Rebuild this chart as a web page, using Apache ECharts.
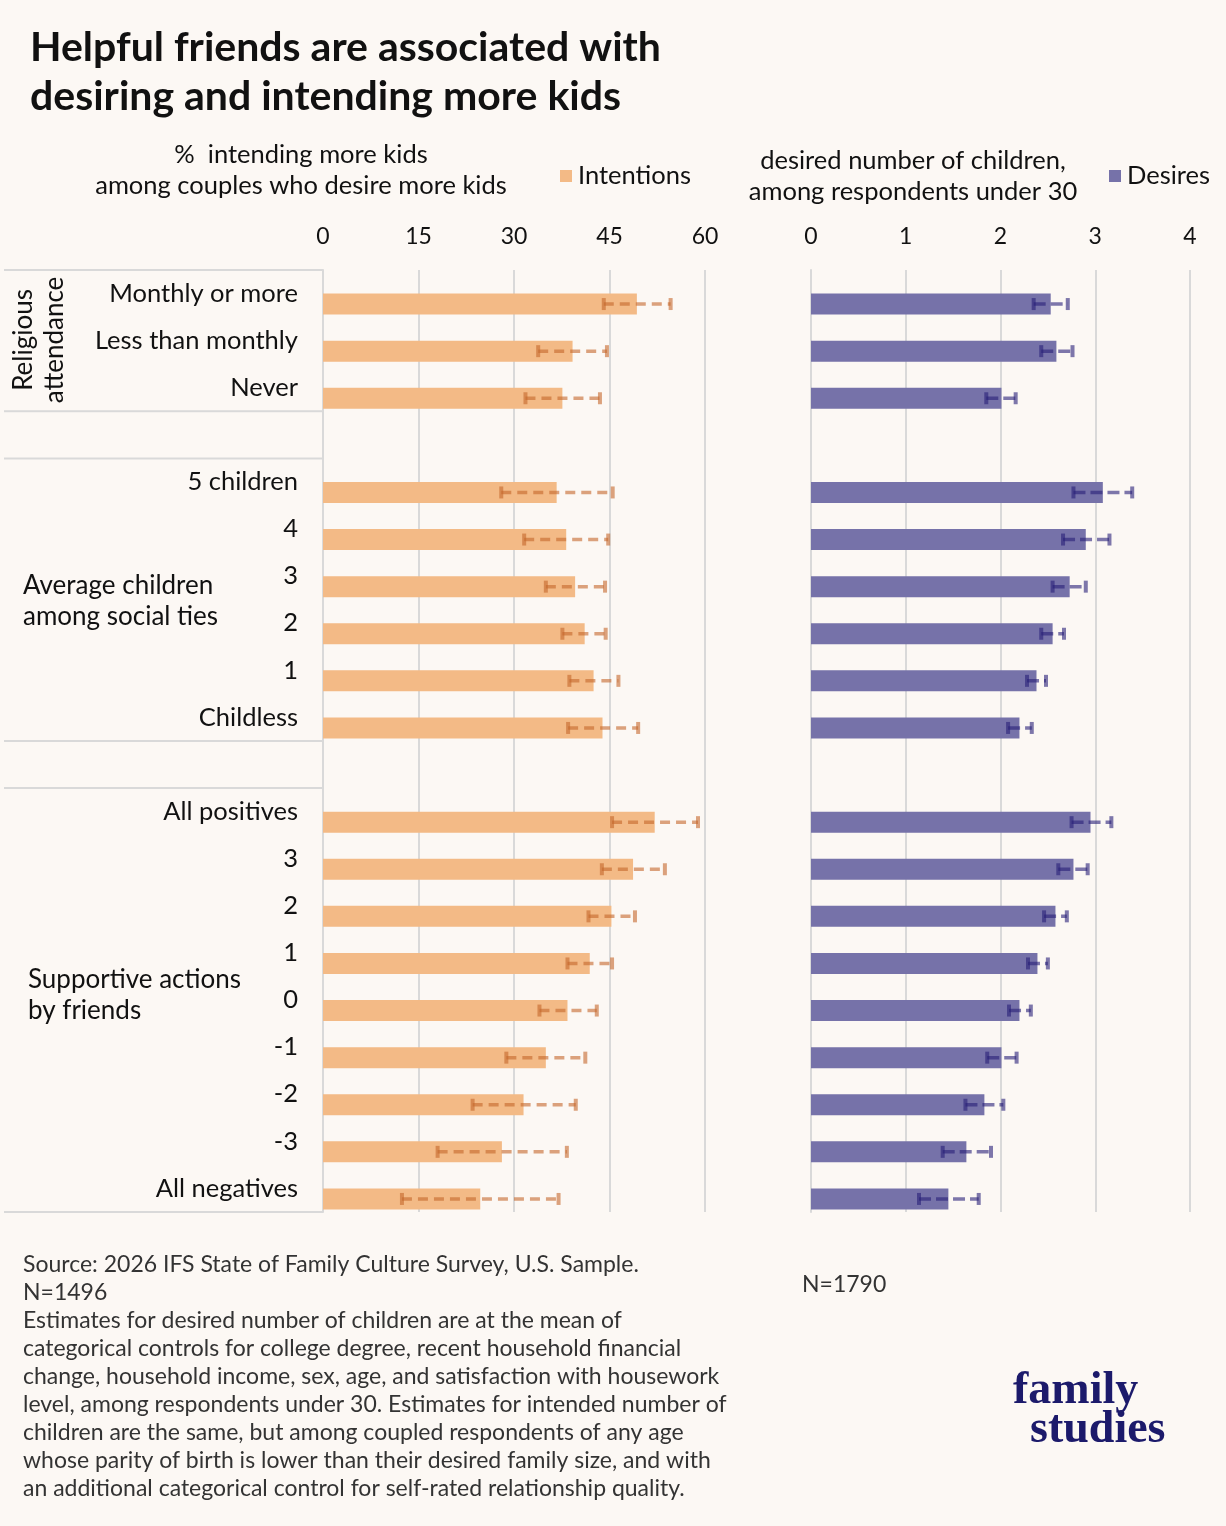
<!DOCTYPE html>
<html>
<head>
<meta charset="utf-8">
<script src="https://cdn.jsdelivr.net/npm/echarts@6/dist/echarts.min.js"></script>
<style>
  html, body { margin: 0; padding: 0; background: #fcf8f4; }
  #chart { width: 1226px; height: 1526px; }
</style>
</head>
<body>
<div id="chart"></div>
<script>
// rows, top to bottom ('' = spacer row)
const rowLabels = ['Monthly or more', 'Less than monthly', 'Never', '',
  '5 children', '4', '3', '2', '1', 'Childless', '',
  'All positives', '3', '2', '1', '0', '-1', '-2', '-3', 'All negatives']

// % intending more kids
const intentions = [49.3, 39.2, 37.6, null, 36.7, 38.2, 39.6, 41.1, 42.5, 43.9, null,
  52.1, 48.7, 45.3, 41.9, 38.4, 35.0, 31.5, 28.1, 24.7]
const intentLow = [44.1, 33.8, 31.8, null, 28.0, 31.6, 35.0, 37.6, 38.7, 38.5, null,
  45.4, 43.8, 41.7, 38.4, 34.0, 28.8, 23.5, 18.0, 12.4]
const intentHigh = [54.6, 44.6, 43.5, null, 45.5, 44.8, 44.3, 44.4, 46.4, 49.5, null,
  58.9, 53.7, 49.0, 45.4, 43.0, 41.2, 39.7, 38.3, 37.0]

// desired number of children
const desires = [2.53, 2.59, 2.01, null, 3.08, 2.90, 2.73, 2.55, 2.38, 2.20, null,
  2.95, 2.77, 2.58, 2.39, 2.20, 2.01, 1.83, 1.64, 1.45]
const desireLow = [2.35, 2.43, 1.85, null, 2.77, 2.66, 2.55, 2.43, 2.28, 2.08, null,
  2.75, 2.61, 2.46, 2.29, 2.09, 1.86, 1.63, 1.39, 1.14]
const desireHigh = [2.71, 2.76, 2.16, null, 3.39, 3.15, 2.90, 2.67, 2.48, 2.33, null,
  3.17, 2.92, 2.70, 2.50, 2.32, 2.17, 2.03, 1.90, 1.77]

const FONT = 'Lato, "Noto Sans", sans-serif'
const gridTop = 270
const gridH = 942
const barW = 21
const rowH = gridH / rowLabels.length
const lineCol = '#d9d9d9'

function errData(lo, hi) {
  return rowLabels.map((_, i) => lo[i] == null ? null : [lo[i], hi[i], i]).filter(Boolean)
}

function errRender(color, dash) {
  return (params, api) => {
    const a = api.coord([api.value(0), api.value(2)])
    const b = api.coord([api.value(1), api.value(2)])
    const y = a[1] + barW / 2
    const cap = 6
    return {
      type: 'group',
      children: [
        { type: 'line', shape: { x1: a[0], y1: y, x2: b[0], y2: y }, style: { stroke: color, lineWidth: 3.5, lineDash: dash } },
        { type: 'line', shape: { x1: a[0], y1: y - cap, x2: a[0], y2: y + cap }, style: { stroke: color, lineWidth: 4 } },
        { type: 'line', shape: { x1: b[0], y1: y - cap, x2: b[0], y2: y + cap }, style: { stroke: color, lineWidth: 4 } }
      ]
    }
  }
}

// frame lines of the label table on the left
const frameRows = [0, 3, 4, 10, 11, 20]
const frameLines = frameRows.map(r => ({
  type: 'line',
  shape: { x1: 4, y1: gridTop + r * rowH, x2: 323, y2: gridTop + r * rowH },
  style: { stroke: lineCol, lineWidth: 2 },
  silent: true
}))

const footer = [
  'Source: 2026 IFS State of Family Culture Survey, U.S. Sample.',
  'N=1496',
  'Estimates for desired number of children are at the mean of',
  'categorical controls for college degree, recent household financial',
  'change, household income, sex, age, and satisfaction with housework',
  'level, among respondents under 30. Estimates for intended number of',
  'children are the same, but among coupled respondents of any age',
  'whose parity of birth is lower than their desired family size, and with',
  'an additional categorical control for self-rated relationship quality.'
].join('\n')

const xAxisBase = {
  type: 'value',
  position: 'top',
  min: 0,
  axisLine: { show: false },
  axisTick: { show: false },
  axisLabel: { color: '#111', fontSize: 23, fontFamily: FONT, margin: 22 },
  splitLine: { lineStyle: { color: lineCol, width: 2 } }
}

const yAxisBase = {
  type: 'category',
  data: rowLabels,
  inverse: true,
  axisTick: { show: false },
  axisLine: { show: true, lineStyle: { color: lineCol, width: 2 } }
}

const option = {
  backgroundColor: '#fcf8f4',
  animation: false,
  title: [
    {
      text: 'Helpful friends are associated with\ndesiring and intending more kids',
      left: 30, top: 23, padding: 0,
      textStyle: { fontFamily: FONT, fontSize: 41, fontWeight: 'bold', color: '#111', lineHeight: 49 }
    },
    {
      text: '%  intending more kids\namong couples who desire more kids',
      left: 301, top: 139, textAlign: 'center', padding: 0,
      textStyle: { fontFamily: FONT, fontSize: 25.5, fontWeight: 'normal', color: '#111', lineHeight: 31, align: 'center' }
    },
    {
      text: 'desired number of children,\namong respondents under 30',
      left: 913, top: 145, textAlign: 'center', padding: 0,
      textStyle: { fontFamily: FONT, fontSize: 25.5, fontWeight: 'normal', color: '#111', lineHeight: 31, align: 'center' }
    }
  ],
  legend: [
    {
      data: ['Intentions'], left: 560, top: 163, padding: 0, selectedMode: false,
      icon: 'rect', itemWidth: 12, itemHeight: 12,
      textStyle: { fontFamily: FONT, fontSize: 25.5, color: '#111', padding: [0, 0, 0, 1] }
    },
    {
      data: ['Desires'], left: 1109, top: 163, padding: 0, selectedMode: false,
      icon: 'rect', itemWidth: 12, itemHeight: 12,
      textStyle: { fontFamily: FONT, fontSize: 25.5, color: '#111', padding: [0, 0, 0, 1] }
    }
  ],
  grid: [
    { left: 323, width: 382, top: gridTop, height: gridH },
    { left: 811, width: 379, top: gridTop, height: gridH }
  ],
  xAxis: [
    Object.assign({}, xAxisBase, { gridIndex: 0, max: 60, interval: 15 }),
    Object.assign({}, xAxisBase, { gridIndex: 1, max: 4, interval: 1 })
  ],
  yAxis: [
    Object.assign({}, yAxisBase, {
      gridIndex: 0,
      axisLabel: { color: '#111', fontSize: 25.5, fontFamily: FONT, margin: 25 }
    }),
    Object.assign({}, yAxisBase, { gridIndex: 1, axisLabel: { show: false } })
  ],
  series: [
    // empty slot so the bar sits in the lower half of each row
    { name: 'pad1', type: 'bar', xAxisIndex: 0, yAxisIndex: 0, barWidth: barW, barGap: '0%', data: rowLabels.map(() => '-') },
    {
      name: 'Intentions', type: 'bar', xAxisIndex: 0, yAxisIndex: 0, barWidth: barW, barGap: '0%',
      itemStyle: { color: '#f3ba86' },
      data: intentions.map(v => v == null ? '-' : v)
    },
    {
      name: 'intentErr', type: 'custom', xAxisIndex: 0, yAxisIndex: 0, z: 5,
      renderItem: errRender('rgba(196,104,44,0.6)', [10, 6]),
      encode: { x: [0, 1], y: 2 },
      data: errData(intentLow, intentHigh)
    },
    { name: 'pad2', type: 'bar', xAxisIndex: 1, yAxisIndex: 1, barWidth: barW, barGap: '0%', data: rowLabels.map(() => '-') },
    {
      name: 'Desires', type: 'bar', xAxisIndex: 1, yAxisIndex: 1, barWidth: barW, barGap: '0%',
      itemStyle: { color: '#7672a9' },
      data: desires.map(v => v == null ? '-' : v)
    },
    {
      name: 'desireErr', type: 'custom', xAxisIndex: 1, yAxisIndex: 1, z: 5,
      renderItem: errRender('rgba(40,32,120,0.6)', [12, 5]),
      encode: { x: [0, 1], y: 2 },
      data: errData(desireLow, desireHigh)
    }
  ],
  graphic: frameLines.concat([
    {
      type: 'text', left: 8, top: gridTop + 1.5 * rowH - 64, rotation: Math.PI / 2,
      style: { text: 'Religious\nattendance', font: '26px ' + FONT, fill: '#111', lineHeight: 31, textAlign: 'center' }
    },
    {
      type: 'text', left: 23, top: 570,
      style: { text: 'Average children\namong social ties', font: '26px ' + FONT, fill: '#111', lineHeight: 31 }
    },
    {
      type: 'text', left: 28, top: 964,
      style: { text: 'Supportive actions\nby friends', font: '26px ' + FONT, fill: '#111', lineHeight: 31 }
    },
    {
      type: 'text', left: 23, top: 1251,
      style: { text: footer, font: '23px ' + FONT, fill: '#333', lineHeight: 28 }
    },
    {
      type: 'text', left: 802, top: 1273,
      style: { text: 'N=1790', font: '23px ' + FONT, fill: '#333' }
    },
    {
      type: 'text', left: 1013, top: 1368,
      style: { text: 'family', font: 'bold 46px "Liberation Serif", serif', fill: '#1c1a6b' }
    },
    {
      type: 'text', left: 1030, top: 1407,
      style: { text: 'studies', font: 'bold 46px "Liberation Serif", serif', fill: '#1c1a6b' }
    }
  ])
}

const chart = echarts.init(document.getElementById('chart'))
chart.setOption(option)
</script>
</body>
</html>
